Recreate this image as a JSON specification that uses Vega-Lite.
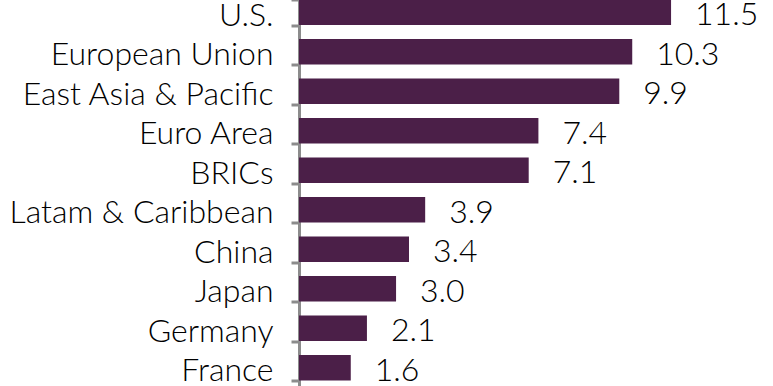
{
  "$schema": "https://vega.github.io/schema/vega-lite/v6.json",
  "autosize": "none",
  "width": 473,
  "height": 395,
  "padding": {"left": 299, "top": -7.5, "right": 0, "bottom": 0},
  "background": "white",
  "config": {"view": {"stroke": null}},
  "data": {"values": [
    {"region": "U.S.", "value": 11.5},
    {"region": "European Union", "value": 10.3},
    {"region": "East Asia & Pacific", "value": 9.9},
    {"region": "Euro Area", "value": 7.4},
    {"region": "BRICs", "value": 7.1},
    {"region": "Latam & Caribbean", "value": 3.9},
    {"region": "China", "value": 3.4},
    {"region": "Japan", "value": 3.0},
    {"region": "Germany", "value": 2.1},
    {"region": "France", "value": 1.6}
  ]},
  "encoding": {
    "y": {"field": "region", "type": "nominal", "sort": null,
      "scale": {"paddingInner": 0.35, "paddingOuter": 0.175},
      "axis": {"title": null, "domainColor": "#8c8c8c", "domainWidth": 3, "tickColor": "#8c8c8c", "tickWidth": 3, "tickSize": 8, "tickBand": "extent", "labelFont": "Lato", "labelFontSize": 32, "labelFontWeight": 300, "labelColor": "#000000", "labelPadding": 18, "labelLimit": 0, "labelOffset": 3}},
    "x": {"field": "value", "type": "quantitative", "scale": {"domain": [0, 14.62], "nice": false}, "axis": null}
  },
  "layer": [
    {"mark": {"type": "bar", "color": "#4b1f48"}},
    {"mark": {"type": "text", "align": "left", "baseline": "middle", "dx": 24, "dy": 3, "font": "Lato", "fontSize": 32, "fontWeight": 300, "color": "#000000"},
     "encoding": {"text": {"field": "value", "type": "quantitative", "format": ".1f"}}}
  ]
}
